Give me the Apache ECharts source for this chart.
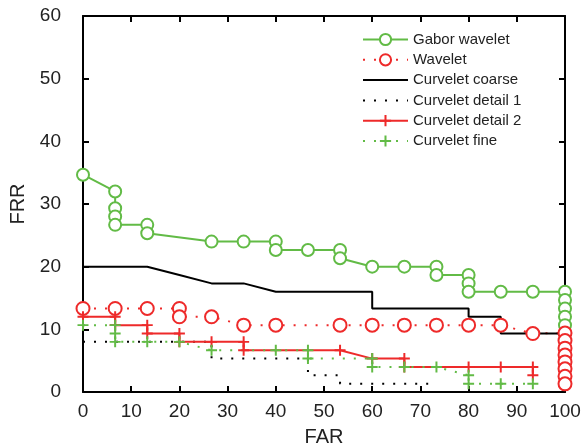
<!DOCTYPE html>
<html>
<head>
<meta charset="utf-8">
<script src="https://cdn.jsdelivr.net/npm/echarts@6/dist/echarts.min.js"></script>
<style>
  html, body { margin: 0; padding: 0; background: #fff; }
  #main { width: 582px; height: 446px; }
</style>
</head>
<body>
<div id="main"></div>
<script>
// [FAR, FRR] pairs
var gaborWavelet = [[0,34.67],[6.67,32],[6.67,29.33],[6.67,28],[6.67,26.67],[13.33,26.67],[13.33,25.33],
  [26.67,24],[33.33,24],[40,24],[40,22.67],[46.67,22.67],[53.33,22.67],[53.33,21.33],[60,20],[66.67,20],
  [73.33,20],[73.33,18.67],[80,18.67],[80,17.33],[80,16],[86.67,16],[93.33,16],[100,16],[100,14.67],
  [100,13.33],[100,12],[100,10.67]];
var wavelet = [[0,13.33],[6.67,13.33],[13.33,13.33],[20,13.33],[20,12],[26.67,12],[33.33,10.67],[40,10.67],
  [53.33,10.67],[60,10.67],[66.67,10.67],[73.33,10.67],[80,10.67],[86.67,10.67],[93.33,9.33],[100,9.4],
  [100,8.2],[100,7.0],[100,5.9],[100,4.8],[100,3.7],[100,2.5],[100,1.3]];
var curveletCoarse = [[0,20],[13.33,20],[20,18.67],[26.67,17.33],[33.33,17.33],[40,16],[60,16],[60,13.33],
  [80,13.33],[80,12],[86.67,12],[86.67,9.33],[100,9.33],[100,0]];
var curveletDetail1 = [[0,8],[26.67,8],[26.67,5.33],[46.67,5.33],[46.67,2.67],[53.33,2.67],[53.33,1.33],
  [73.33,1.33]];
var curveletDetail2 = [[0,12],[6.67,12],[6.67,10.67],[13.33,10.67],[13.33,9.33],[20,9.33],[20,8],[26.67,8],
  [33.33,8],[33.33,6.67],[53.33,6.67],[60,5.33],[66.67,5.33],[66.67,4],[80,4],[86.67,4],[93.33,4],[93.33,2.67]];
var curveletFine = [[0,10.67],[6.67,10.67],[6.67,9.33],[6.67,8],[13.33,8],[20,8],[26.67,6.67],[40,6.67],
  [46.67,6.67],[46.67,5.33],[60,5.33],[60,4],[66.67,4],[73.33,4],[80,2.67],[80,1.33],[86.67,1.33],[93.33,1.33]];

var GREEN = '#62bb46';
var RED = '#ee2a2a';
var plus = 'path://M4.1,0H5.9V4.1H10V5.9H5.9V10H4.1V5.9H0V4.1H4.1Z';
var font = 'Liberation Sans';

var chart = echarts.init(document.getElementById('main'));

// box edges: top and right copies of the axes, ticks pointing in
function frame(pos, maxV) {
  return {
    type: 'value', position: pos, min: 0, max: maxV, interval: 10,
    axisLine: { show: true, onZero: false, lineStyle: { color: '#000', width: 2 } },
    axisTick: { show: true, inside: true, length: 6, lineStyle: { color: '#000', width: 2 } },
    axisLabel: { show: false },
    splitLine: { show: false }
  };
}

var option = {
  animation: false,
  grid: { left: 83, right: 17, top: 16, bottom: 54, outerBoundsMode: 'none' },
  legend: {
    orient: 'vertical',
    left: 362, top: 32,
    padding: 0,
    itemWidth: 45, itemHeight: 14, itemGap: 5.3,
    textStyle: { fontFamily: font, fontSize: 15, color: '#222' },
    data: ['Gabor wavelet','Wavelet','Curvelet coarse','Curvelet detail 1','Curvelet detail 2','Curvelet fine']
  },
  xAxis: [
    {
      type: 'value', min: 0, max: 100, interval: 10,
      name: 'FAR', nameLocation: 'middle', nameGap: 35,
      nameTextStyle: { fontFamily: font, fontSize: 20, color: '#222' },
      axisLine: { onZero: false, lineStyle: { color: '#000', width: 2 } },
      axisTick: { inside: true, length: 6, lineStyle: { color: '#000', width: 2 } },
      axisLabel: { fontFamily: font, fontSize: 19, color: '#222', margin: 10 },
      splitLine: { show: false }
    },
    frame('top', 100)
  ],
  yAxis: [
    {
      type: 'value', min: 0, max: 60, interval: 10,
      name: 'FRR', nameLocation: 'middle', nameGap: 54,
      nameTextStyle: { fontFamily: font, fontSize: 20, color: '#222' },
      axisLine: { onZero: false, lineStyle: { color: '#000', width: 2 } },
      axisTick: { inside: true, length: 6, lineStyle: { color: '#000', width: 2 } },
      axisLabel: { fontFamily: font, fontSize: 19, color: '#222', margin: 22 },
      splitLine: { show: false }
    },
    frame('right', 60)
  ],
  series: [
    {
      name: 'Gabor wavelet', type: 'line', data: gaborWavelet,
      symbol: 'emptyCircle', symbolSize: 12,
      lineStyle: { color: GREEN, width: 2 },
      itemStyle: { color: GREEN, borderWidth: 2 }
    },
    {
      name: 'Wavelet', type: 'line', data: wavelet,
      symbol: 'emptyCircle', symbolSize: 13,
      lineStyle: { color: RED, width: 2, type: [2, 9] },
      itemStyle: { color: RED, borderWidth: 2 }
    },
    {
      name: 'Curvelet coarse', type: 'line', data: curveletCoarse,
      symbol: 'circle', symbolSize: 0,
      lineStyle: { color: '#000', width: 2 },
      itemStyle: { color: 'rgba(0,0,0,0)' }
    },
    {
      name: 'Curvelet detail 1', type: 'line', data: curveletDetail1,
      symbol: 'circle', symbolSize: 0,
      lineStyle: { color: '#000', width: 2, type: [2, 9] },
      itemStyle: { color: 'rgba(0,0,0,0)' }
    },
    {
      name: 'Curvelet detail 2', type: 'line', data: curveletDetail2,
      symbol: plus, symbolSize: 11,
      lineStyle: { color: RED, width: 2 },
      itemStyle: { color: RED }
    },
    {
      name: 'Curvelet fine', type: 'line', data: curveletFine,
      symbol: plus, symbolSize: 11,
      lineStyle: { color: GREEN, width: 2, type: [2, 9] },
      itemStyle: { color: GREEN }
    }
  ]
};

chart.setOption(option);
</script>
</body>
</html>
